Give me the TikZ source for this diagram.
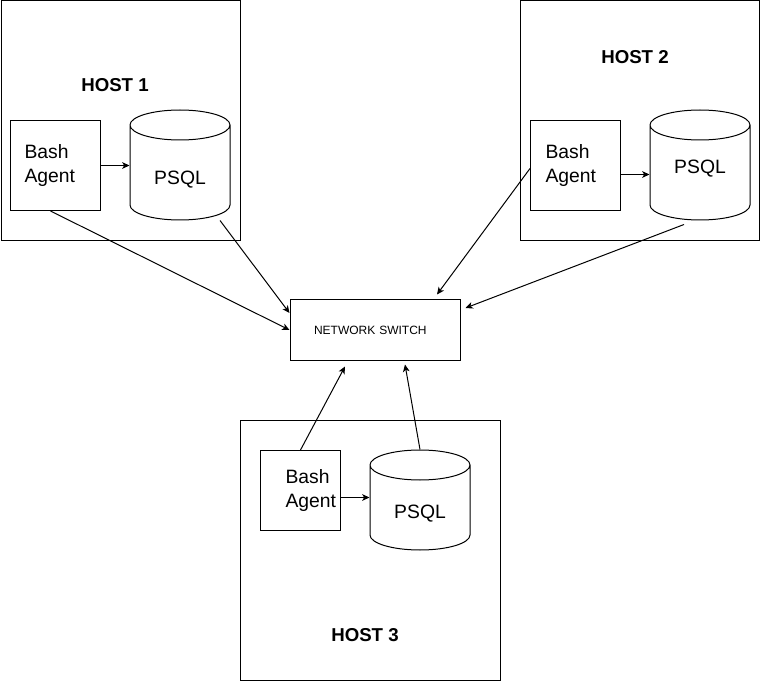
\documentclass[tikz,border=0pt]{standalone}
\usepackage{fontspec}
\setmainfont{Liberation Sans}
\usetikzlibrary{arrows.meta,shapes,calc}

\begin{document}
\begin{tikzpicture}[x=0.75pt,y=-0.75pt,line width=0.75pt,
    hostbox/.style={draw,anchor=north west,inner sep=0pt},
    hostname/.style={font=\fontsize{14}{17}\selectfont\bfseries},
    agentbox/.style={draw,anchor=north west,align=left,inner sep=0pt,
        text width=#1,font=\fontsize{14.5}{18}\selectfont},
    agentbox/.default=46.5pt,
    dbcyl/.style={draw,cylinder,shape border rotate=90,aspect=0.3,
        anchor=shape center,inner sep=7.5pt,text width=60pt,
        label={[yshift=#1,font=\fontsize{14.5}{18}\selectfont]center:PSQL}},
    dbcyl/.default=-1.8pt,
    switchbox/.style={draw,inner sep=0pt,minimum width=127.5pt,
        minimum height=45pt,align=left,text width=91.5pt,
        font=\fontsize{9}{11}\selectfont},
    link/.style={-{Stealth[length=5.5pt,width=5pt,inset=1.5pt]}}]
  \useasboundingbox (0,0) rectangle (761,681);
  % hosts
  \node[hostbox,minimum width=179.5pt,minimum height=179.5pt] (h1) at (0.5,0.5) {};
  \node[hostbox,minimum width=179.5pt,minimum height=179.5pt] (h2) at (520,0.5) {};
  \node[hostbox,minimum width=195pt,minimum height=195pt] (h3) at (240,420) {};
  \node[hostname] (t1) at (115,85) {HOST 1};
  \node[hostname] (t2) at (635,57) {HOST 2};
  \node[hostname] (t3) at (365,635) {HOST 3};
  % agents and databases
  \node[agentbox,minimum size=67.5pt] (b1) at (10,120) {Bash\\Agent};
  \node[agentbox=45pt,minimum size=67.5pt] (b2) at (530,120) {Bash\\Agent};
  \node[agentbox=22.5pt,minimum size=60pt] (b3) at (260,450) {Bash\\Agent};
  \node[dbcyl,minimum height=82.5pt] (c1) at (180,165) {};
  \node[dbcyl=6.5pt,minimum height=82.5pt] (c2) at (700,165) {};
  \node[dbcyl=-1.3pt,minimum height=75pt] (c3) at (420,500) {};
  \node[switchbox] (sw) at (375,330) {NETWORK SWITCH};
  % local arrows
  \draw[link] (b1.east) coordinate (a1) -- (a1 -| c1.west);
  \draw[link] ($(b2.east)+(0,9)$) coordinate (a2) -- (a2 -| c2.west);
  \draw[link] ($(b3.east)+(0,7)$) coordinate (a3) -- (a3 -| c3.west);
  % to the switch
  \draw[link] ($(b1.south)+(-5,0)$) -- (sw.west);
  \draw[link] ($(c1.south)+(40,0)$) -- ($(sw.west)+(0,-17)$);
  \draw[link] ($(b2.west)+(0,3)$) -- ($(sw.north)+(62,-5)$);
  \draw[link] ($(c2.south)+(-16,4)$) -- ($(sw.east)+(5,-22)$);
  \draw[link] (b3.north) -- ($(sw.south)+(-30,6)$);
  \draw[link] (c3.north) -- ($(sw.south)+(30,4)$);
\end{tikzpicture}
\end{document}
